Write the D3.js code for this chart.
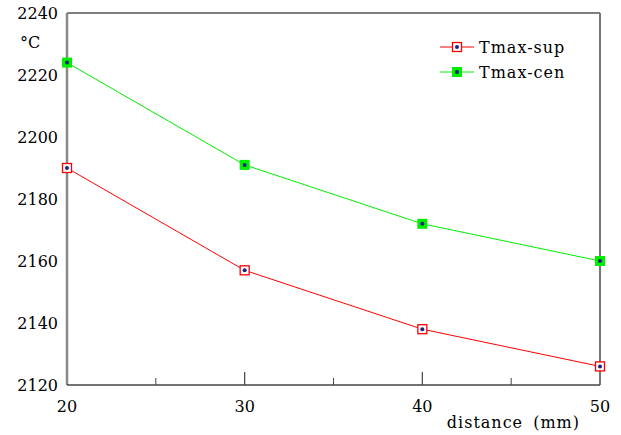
<!DOCTYPE html>
<html>
<head>
<meta charset="utf-8">
<script src="https://cdn.jsdelivr.net/npm/d3@7"></script>
<style>
  body { margin: 0; background: #fff; }
</style>
</head>
<body>
<script>
const distances = [20, 30, 40, 50];
const tmaxSup = [2190, 2157, 2138, 2126];
const tmaxCen = [2224, 2191, 2172, 2160];
const yTicks = [2120, 2140, 2160, 2180, 2200, 2220, 2240];
const xMajor = [20, 30, 40, 50];
const xMinor = [25, 35, 45];

const width = 621, height = 435;
const margin = {top: 13, right: 21, bottom: 50, left: 67};
const w = width - margin.left - margin.right,
      h = height - margin.top - margin.bottom;

const svg = d3.select("body").append("svg")
    .attr("width", width)
    .attr("height", height)
    .style("font-family", "'DejaVu Serif'");

const g = svg.append("g")
    .attr("transform", `translate(${margin.left},${margin.top})`);

const x = d3.scaleLinear().domain([20, 50]).range([0, w]);
const y = d3.scaleLinear().domain([2120, 2240]).range([h, 0]);

// frame
g.append("line").attr("x1", 0).attr("x2", w).attr("y1", 0).attr("y2", 0)
    .attr("stroke", "#555").attr("stroke-width", 1.5);
g.append("line").attr("x1", w).attr("x2", w).attr("y1", 0).attr("y2", h)
    .attr("stroke", "#777").attr("stroke-width", 2);
g.append("line").attr("x1", 0).attr("x2", 0).attr("y1", 0).attr("y2", h)
    .attr("stroke", "#888").attr("stroke-width", 2.5);
g.append("line").attr("x1", 0).attr("x2", w).attr("y1", h).attr("y2", h)
    .attr("stroke", "#444").attr("stroke-width", 1.5);

// x ticks pointing up
g.selectAll(".major").data(xMajor.slice(1, -1)).enter().append("line")
    .attr("x1", d => x(d)).attr("x2", d => x(d))
    .attr("y1", h).attr("y2", h - 13)
    .attr("stroke", "#444").attr("stroke-width", 1.2);
g.selectAll(".minor").data(xMinor).enter().append("line")
    .attr("x1", d => x(d)).attr("x2", d => x(d))
    .attr("y1", h).attr("y2", h - 7)
    .attr("stroke", "#444").attr("stroke-width", 1);

g.selectAll(".xl").data(xMajor).enter().append("text")
    .attr("x", d => x(d)).attr("y", h + 27)
    .attr("text-anchor", "middle")
    .style("font-size", "16px")
    .text(d => d);

g.selectAll(".yl").data(yTicks).enter().append("text")
    .attr("x", -9).attr("y", d => y(d) + 6)
    .attr("text-anchor", "end")
    .style("font-size", "16px")
    .text(d => d);

svg.append("text").attr("x", 20).attr("y", 48)
    .style("font-size", "16px").text("°C");

svg.append("text").attr("x", 580).attr("y", 428)
    .attr("text-anchor", "end")
    .style("font-size", "16px")
    .style("letter-spacing", "1px")
    .style("word-spacing", "4px")
    .text("distance (mm)");

const line = d3.line().x((d, i) => x(distances[i])).y(d => y(d));

function drawSeries(vals, color, filled) {
    g.append("path").datum(vals)
        .attr("fill", "none").attr("stroke", color).attr("stroke-width", 1)
        .attr("d", line);
    const pts = g.selectAll(null).data(vals).enter().append("g")
        .attr("transform", (d, i) => `translate(${x(distances[i])},${y(d)})`);
    drawMarker(pts, color, filled);
}

function drawMarker(sel, color, filled) {
    if (filled) {
        sel.append("rect").attr("x", -5).attr("y", -5).attr("width", 10).attr("height", 10)
            .attr("fill", color);
    } else {
        sel.append("rect").attr("x", -4.5).attr("y", -4.5).attr("width", 9).attr("height", 9)
            .attr("fill", "#fff").attr("stroke", color).attr("stroke-width", 1.3);
    }
    sel.append("circle").attr("r", 2).attr("fill", "#1a237e");
}

drawSeries(tmaxSup, "#ff0000", false);
drawSeries(tmaxCen, "#00ee00", true);

// legend
const legend = [
    {name: "Tmax-sup", color: "#ff0000", filled: false},
    {name: "Tmax-cen", color: "#00ee00", filled: true}
];
const lg = svg.selectAll(".lg").data(legend).enter().append("g")
    .attr("transform", (d, i) => `translate(457,${47 + i * 25})`);
lg.append("line").attr("x1", -17).attr("x2", 17)
    .attr("stroke", d => d.color).attr("stroke-width", 1);
lg.each(function(d) { drawMarker(d3.select(this), d.color, d.filled); });
lg.append("text").attr("x", 22).attr("y", 6)
    .style("font-size", "16px")
    .style("letter-spacing", "1px")
    .text(d => d.name);
</script>
</body>
</html>
